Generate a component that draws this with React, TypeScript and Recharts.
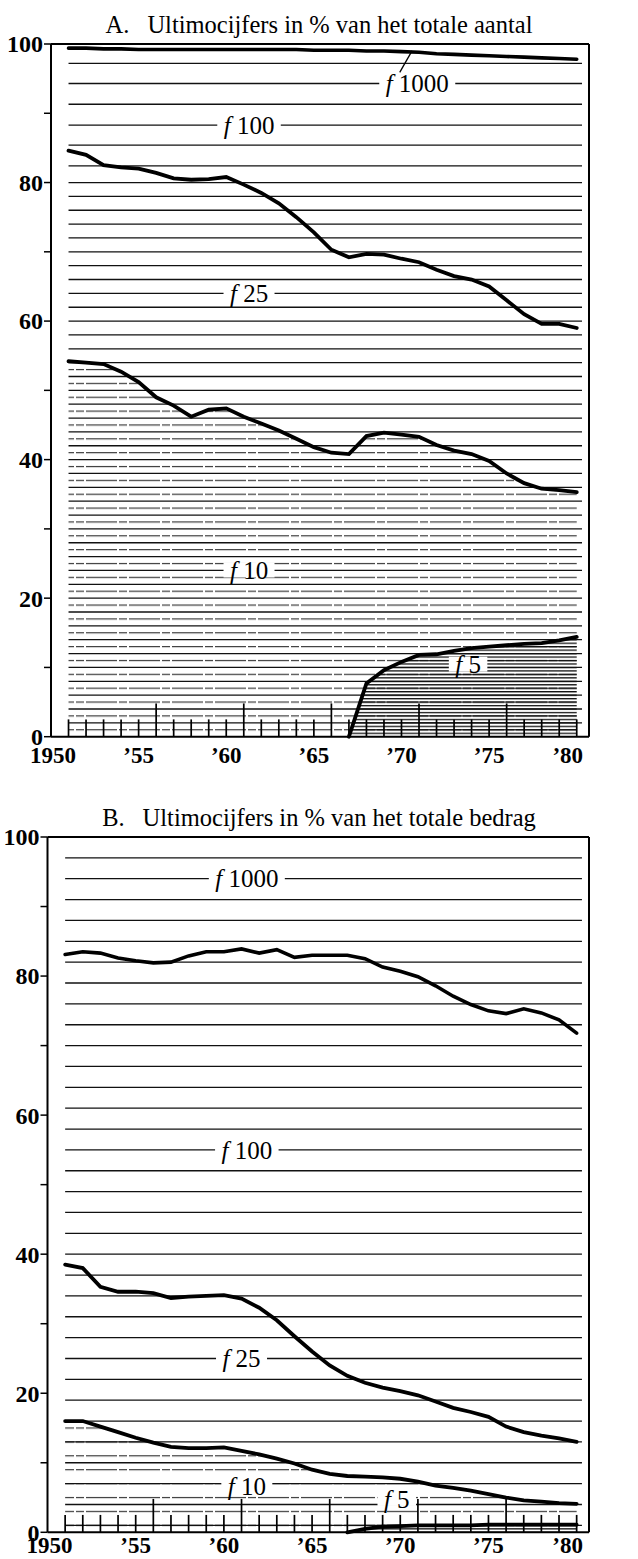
import React from "react";
import { Area, ComposedChart, Line, ReferenceDot, ReferenceLine, XAxis, YAxis } from "recharts";

// ultimo years plotted
const years = [
  1951, 1952, 1953, 1954, 1955, 1956, 1957, 1958, 1959, 1960,
  1961, 1962, 1963, 1964, 1965, 1966, 1967, 1968, 1969, 1970,
  1971, 1972, 1973, 1974, 1975, 1976, 1977, 1978, 1979, 1980,
];
const xLabels = [1950, 1955, 1960, 1965, 1970, 1975, 1980];
const yTicks = [0, 10, 20, 30, 40, 50, 60, 70, 80, 90, 100];
const bigTicks = [1956, 1961, 1966, 1971, 1976];
const N = null;

// A. share of total number (cumulative boundaries, %)
const aTop1000 = [99.4, 99.4, 99.3, 99.3, 99.2, 99.2, 99.2, 99.2, 99.2, 99.2, 99.2, 99.2, 99.2, 99.2, 99.1, 99.1, 99.1, 99.0, 99.0, 98.9, 98.8, 98.6, 98.5, 98.4, 98.3, 98.2, 98.1, 98.0, 97.9, 97.8];
const aTop25 = [84.6, 84.0, 82.5, 82.2, 82.0, 81.4, 80.6, 80.4, 80.5, 80.8, 79.7, 78.5, 77.0, 75.0, 72.8, 70.3, 69.2, 69.7, 69.6, 69.0, 68.5, 67.4, 66.5, 66.0, 65.0, 63.0, 61.0, 59.6, 59.6, 59.0];
const aTop10 = [54.2, 54.0, 53.8, 52.7, 51.2, 49.0, 47.8, 46.2, 47.2, 47.4, 46.2, 45.2, 44.2, 43.0, 41.8, 41.0, 40.8, 43.4, 43.9, 43.6, 43.3, 42.1, 41.3, 40.8, 39.8, 38.0, 36.6, 35.8, 35.6, 35.3];
const aTop5 = [N, N, N, N, N, N, N, N, N, N, N, N, N, N, N, N, 0, 7.7, 9.6, 10.8, 11.8, 11.9, 12.4, 12.8, 13.0, 13.2, 13.4, 13.5, 13.9, 14.4];

// B. share of total amount (cumulative boundaries, %)
const bTop1000 = [83.1, 83.5, 83.3, 82.6, 82.2, 81.9, 82.0, 82.9, 83.5, 83.5, 83.9, 83.3, 83.8, 82.7, 83.0, 83.0, 83.0, 82.5, 81.3, 80.7, 79.9, 78.6, 77.1, 75.9, 75.0, 74.6, 75.3, 74.7, 73.7, 71.8];
const bTop25 = [38.5, 38.0, 35.3, 34.6, 34.6, 34.4, 33.7, 33.9, 34.0, 34.1, 33.6, 32.3, 30.5, 28.2, 26.0, 24.0, 22.5, 21.5, 20.8, 20.3, 19.7, 18.8, 17.9, 17.3, 16.6, 15.2, 14.4, 13.9, 13.5, 13.0];
const bTop10 = [16.0, 16.0, 15.2, 14.4, 13.6, 12.9, 12.3, 12.1, 12.1, 12.2, 11.7, 11.2, 10.6, 9.9, 9.0, 8.4, 8.1, 8.0, 7.9, 7.7, 7.3, 6.7, 6.4, 6.0, 5.5, 5.0, 4.6, 4.4, 4.2, 4.1];
const bTop5 = [N, N, N, N, N, N, N, N, N, N, N, N, N, N, N, N, 0, 0.5, 0.8, 0.9, 1.0, 1.0, 1.0, 1.0, 1.1, 1.1, 1.1, 1.1, 1.1, 1.1];

// horizontal shading lines (value levels)
const hatchA = [2, 4, 6, 8, 10, 12, 14, 16, 18, 20, 22, 24, 26, 28, 30, 32, 34, 36, 38, 40, 42, 44, 46, 48, 50, 52, 54, 56, 58, 60, 62, 64, 66, 68, 70, 72, 74, 76, 78, 80, 82.4, 85.4, 88.3, 91.3, 94.3, 97.2];
const hatchB = [1, 4, 7, 10, 13, 16, 19, 22, 25, 28, 31, 34, 37, 40, 43, 46, 49, 52, 55, 58, 61, 64, 67, 70, 73, 76, 79, 82, 85, 88, 91, 94, 97];

const labelsA = [
  { text: "1000", x: 1970.9, y: 94.3 },
  { text: "100", x: 1961.3, y: 88.3 },
  { text: "25", x: 1961.3, y: 64 },
  { text: "10", x: 1961.3, y: 24 },
  { text: "5", x: 1973.8, y: 10.4 },
];
const labelsB = [
  { text: "1000", x: 1961.3, y: 94 },
  { text: "100", x: 1961.3, y: 55 },
  { text: "25", x: 1961.0, y: 25 },
  { text: "10", x: 1961.3, y: 6.6 },
  { text: "5", x: 1969.8, y: 4.8 },
];

const FONT = "'Liberation Serif', 'Times New Roman', serif";
const mod = (a: number, b: number) => ((a % b) + b) % b;

function XTick({ x, y, payload, dy }: any) {
  const v = payload.value;
  const s = v === 1950 ? "1950" : "\u2019" + String(v).slice(2);
  return (
    <text x={v === 1980 ? x - 9 : v === 1950 ? x + 2 : x} y={y + dy} textAnchor="middle" fontFamily={FONT} fontSize={23} fontWeight="bold" fill="#000">
      {s}
    </text>
  );
}

function YTick({ x, y, payload, textAnchor }: any) {
  if (payload.value % 20 !== 0) return <g />;
  return (
    <text x={x} y={y} dy="0.35em" textAnchor={textAnchor} fontFamily={FONT} fontSize={24} fontWeight="bold" fill="#000">
      {payload.value}
    </text>
  );
}

function BandLabel({ cx, cy, text }: any) {
  const w = 26 + text.length * 12.5;
  return (
    <g>
      <rect x={cx - w / 2} y={cy - 8} width={w} height={15} fill="#fff" />
      <text x={cx} y={cy} dy="0.35em" textAnchor="middle" fontFamily={FONT} fontSize={25} fill="#000">
        <tspan fontStyle="italic">f</tspan>
        {" " + text}
      </text>
    </g>
  );
}

function Panel({ id, top, height, marginTop, axisH, leftW, rightW, labelDy, t1000, t25, t10, t5, hatch, labels, leader }: any) {
  const data = years.map((year, i) => ({ year, t1000: t1000[i], t25: t25[i], t10: t10[i], t5: t5[i] }));
  const plotH = height - marginTop - axisH;
  const unit = plotH / 100;
  const y0 = marginTop + plotH;
  const oddY = mod(y0 - unit, 2 * unit);
  const fineY = mod(y0, unit / 2);
  return (
    <div style={{ position: "absolute", left: 0, top, width: 638, height }}>
      <ComposedChart width={638} height={height} data={data} margin={{ top: marginTop, right: 0, bottom: 0, left: 0 }}>
        <defs>
          <pattern id={`odd${id}`} patternUnits="userSpaceOnUse" x={0} y={oddY - 0.6} width={43} height={2 * unit}>
            <rect x={0} y={0} width={31} height={1.2} fill="#3a3a3a" />
            <rect x={33} y={0} width={8} height={1.2} fill="#3a3a3a" />
          </pattern>
          <pattern id={`fine${id}`} patternUnits="userSpaceOnUse" x={0} y={fineY - 0.6} width={50} height={unit / 2}>
            <rect x={0} y={0} width={50} height={1.3} fill="#111" />
          </pattern>
        </defs>
        <XAxis
          dataKey="year"
          type="number"
          domain={[1950, 1980.7]}
          ticks={xLabels}
          interval={0}
          tickSize={0}
          tickMargin={0}
          height={axisH}
          axisLine={{ stroke: "#000", strokeWidth: 2 }}
          tick={(p: any) => <XTick {...p} dy={labelDy} />}
        />
        <YAxis
          yAxisId="l"
          domain={[0, 100]}
          ticks={yTicks}
          interval={0}
          width={leftW}
          tickSize={7}
          tickMargin={1}
          axisLine={{ stroke: "#000", strokeWidth: 2 }}
          tickLine={{ stroke: "#000", strokeWidth: 1.5 }}
          tick={<YTick />}
        />
        <YAxis
          yAxisId="r"
          orientation="right"
          domain={[0, 100]}
          ticks={yTicks}
          interval={0}
          width={rightW}
          tickSize={7}
          tickMargin={2}
          axisLine={{ stroke: "#000", strokeWidth: 2 }}
          tickLine={{ stroke: "#000", strokeWidth: 1.5 }}
          tick={<YTick />}
        />
        <Area yAxisId="l" type="linear" dataKey="t10" stroke="none" fill={`url(#odd${id})`} fillOpacity={1} isAnimationActive={false} />
        <Area yAxisId="l" type="linear" dataKey="t5" stroke="none" fill={`url(#fine${id})`} fillOpacity={1} isAnimationActive={false} />
        {hatch.map((v: number) => (
          <ReferenceLine key={`h${v}`} yAxisId="l" segment={[{ x: 1951, y: v }, { x: 1980.3, y: v }]} stroke="#111" strokeWidth={1.3} />
        ))}
        {years.map((yr) => (
          <ReferenceLine key={`t${yr}`} yAxisId="l" segment={[{ x: yr, y: 0 }, { x: yr, y: bigTicks.includes(yr) ? 4.8 : 2.5 }]} stroke="#000" strokeWidth={1.7} />
        ))}
        <ReferenceLine yAxisId="l" y={100} stroke="#000" strokeWidth={2} />
        <Line yAxisId="l" type="linear" dataKey="t1000" stroke="#000" strokeWidth={3.6} strokeLinecap="round" dot={false} isAnimationActive={false} />
        <Line yAxisId="l" type="linear" dataKey="t25" stroke="#000" strokeWidth={3.8} strokeLinecap="round" dot={false} isAnimationActive={false} />
        <Line yAxisId="l" type="linear" dataKey="t10" stroke="#000" strokeWidth={3.8} strokeLinecap="round" dot={false} isAnimationActive={false} />
        <Line yAxisId="l" type="linear" dataKey="t5" stroke="#000" strokeWidth={3.8} strokeLinecap="round" dot={false} isAnimationActive={false} />
        {labels.map((l: any) => (
          <ReferenceDot key={`l${l.text}`} yAxisId="l" x={l.x} y={l.y} r={0} shape={(p: any) => <BandLabel cx={p.cx} cy={p.cy} text={l.text} />} />
        ))}
        {leader && (
          <ReferenceLine yAxisId="l" segment={leader} stroke="#000" strokeWidth={1.3} />
        )}
      </ComposedChart>
    </div>
  );
}

export default function App() {
  return (
    <div style={{ position: "absolute", left: 0, top: 0, width: 638, height: 1559, background: "#fff" }}>
      <svg width={638} height={1559} style={{ position: "absolute", left: 0, top: 0 }}>
        <text x={319} y={33} textAnchor="middle" fontFamily={FONT} fontSize={24.5} fill="#000">
          A.<tspan dx={18}>Ultimocijfers in % van het totale aantal</tspan>
        </text>
        <text x={319} y={826} textAnchor="middle" fontFamily={FONT} fontSize={24.5} fill="#000">
          B.<tspan dx={18}>Ultimocijfers in % van het totale bedrag</tspan>
        </text>
      </svg>
      <Panel
        id="A"
        top={0}
        height={790}
        marginTop={44}
        axisH={53.3}
        leftW={51}
        rightW={49}
        labelDy={26}
        t1000={aTop1000}
        t25={aTop25}
        t10={aTop10}
        t5={aTop5}
        hatch={hatchA}
        labels={labelsA}
        leader={[{ x: 1969.9, y: 95.9 }, { x: 1970.6, y: 99.0 }]}
      />
      <Panel
        id="B"
        top={790}
        height={769}
        marginTop={47}
        axisH={26.7}
        leftW={47.5}
        rightW={49}
        labelDy={21}
        t1000={bTop1000}
        t25={bTop25}
        t10={bTop10}
        t5={bTop5}
        hatch={hatchB}
        labels={labelsB}
      />
    </div>
  );
}
